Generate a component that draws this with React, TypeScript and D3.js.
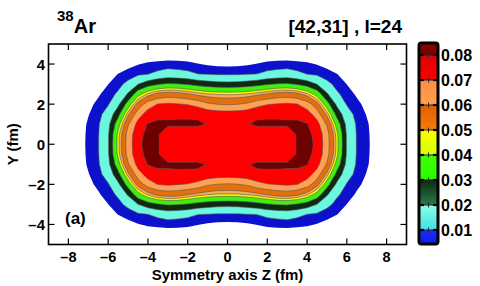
import React, { useMemo } from 'react'
import * as d3 from 'd3'

// nuclear density, one quadrant (z >= 0, Y >= 0), grid step 0.5 fm
// rows: Y = 0, 0.5, ... 4.5   columns: z = 0, 0.5, ... 8
const gridStep = 0.5
const densityQuadrant = [
  [0.075, 0.075, 0.0755, 0.0755, 0.0745, 0.076, 0.077, 0.0805, 0.085, 0.077, 0.065, 0.043, 0.019, 0.0096, 0.0061, 0.0025, 0.0005],
  [0.075, 0.0752, 0.076, 0.074, 0.074, 0.074, 0.074, 0.081, 0.083, 0.0765, 0.0643, 0.042, 0.0188, 0.0095, 0.006, 0.0024, 0.0005],
  [0.0755, 0.0765, 0.0795, 0.0815, 0.0815, 0.0815, 0.0815, 0.0825, 0.0805, 0.0735, 0.0588, 0.0361, 0.0171, 0.0091, 0.0057, 0.0022, 0.0005],
  [0.075, 0.0752, 0.0765, 0.0782, 0.0785, 0.0785, 0.078, 0.0765, 0.0745, 0.0655, 0.0481, 0.0265, 0.0135, 0.0079, 0.0047, 0.0015, 0.0003],
  [0.0591, 0.0597, 0.0617, 0.0668, 0.0695, 0.0705, 0.0715, 0.0703, 0.0651, 0.0536, 0.0343, 0.0179, 0.0094, 0.0063, 0.0035, 0.001, 0],
  [0.0441, 0.0444, 0.0457, 0.0479, 0.0509, 0.0538, 0.0545, 0.0524, 0.0465, 0.0363, 0.0212, 0.0112, 0.0073, 0.0043, 0.002, 0, 0],
  [0.0231, 0.0234, 0.0245, 0.0264, 0.0289, 0.0305, 0.0311, 0.0289, 0.0252, 0.0197, 0.0121, 0.0079, 0.0049, 0.003, 0.001, 0, 0],
  [0.0091, 0.0092, 0.0096, 0.0101, 0.0119, 0.013, 0.0139, 0.0119, 0.0099, 0.0087, 0.0067, 0.0051, 0.003, 0.0015, 0, 0, 0],
  [0.0037, 0.0039, 0.0044, 0.0052, 0.006, 0.0064, 0.0066, 0.0062, 0.0058, 0.0047, 0.0035, 0.002, 0.001, 0, 0, 0, 0],
  [0.0005, 0.0006, 0.001, 0.0015, 0.002, 0.002, 0.002, 0.0018, 0.0015, 0.001, 0.0005, 0, 0, 0, 0, 0, 0],
]

const levels = [0.005, 0.01, 0.02, 0.03, 0.04, 0.045, 0.05, 0.06, 0.07, 0.08]
const levelColors = ['#0c12cc', '#6cf7df', '#0e2a12', '#40ee10', '#f8f800', '#f7a95e', '#e2700c', '#ffa052', '#ff0000', '#6e0000']

const xTicks = [-8, -6, -4, -2, 0, 2, 4, 6, 8]
const yTicks = [-4, -2, 0, 2, 4]

// colorbar
const barTicks = [0.01, 0.02, 0.03, 0.04, 0.05, 0.06, 0.07, 0.08]
const barEdges = [0.0044, 0.01, 0.02, 0.03, 0.04, 0.05, 0.06, 0.07, 0.08, 0.0848]
const barLow = ['#0a1ee8', '#3ee0e4', '#2a7a4e', '#22ff00', '#d4ff00', '#f27e06', '#ffa24c', '#ff0000', '#7a0000']
const barHigh = ['#1a2cff', '#8cffe8', '#0a2a0c', '#44ff00', '#ffff00', '#e25e00', '#ff8c44', '#dc0000', '#8c0000']

const font = 'Liberation Sans, Arial, Helvetica, sans-serif'
const fmtTick = (v: number) => (v < 0 ? '\u2013' + Math.abs(v) : String(v))

export default function App() {
  const width = 480
  const height = 286
  const plot = { left: 48.5, right: 406.5, top: 44, bottom: 244.5 }

  const x = d3.scaleLinear().domain([-9, 9]).range([plot.left, plot.right])
  const y = d3.scaleLinear().domain([-5, 5]).range([plot.bottom, plot.top])
  const cb = d3.scaleLinear().domain([0.01, 0.08]).range([230, 55])

  const paths = useMemo(() => {
    const ny = densityQuadrant.length
    const nz = densityQuadrant[0].length
    const cols = 2 * nz - 1
    const rows = 2 * ny - 1
    const values: number[] = new Array(cols * rows)
    for (let r = 0; r < rows; r++) {
      for (let c = 0; c < cols; c++) {
        values[r * cols + c] = densityQuadrant[Math.abs(ny - 1 - r)][Math.abs(c - (nz - 1))]
      }
    }
    const contours = d3.contours().size([cols, rows]).thresholds(levels)(values)
    const proj = d3.geoTransform({
      point(gx: number, gy: number) {
        const z = (gx - 0.5 - (nz - 1)) * gridStep
        const yy = (ny - 1 - (gy - 0.5)) * gridStep
        this.stream.point(x(z), y(yy))
      },
    })
    const path = d3.geoPath(proj)
    return contours.map((c, i) => ({ d: path(c as any) || '', color: levelColors[i], i }))
  }, [])

  const barX = 419
  const barW = 19
  const barTop = cb(barEdges[barEdges.length - 1])
  const barBottom = cb(barEdges[0])

  return (
    <svg width={width} height={height} style={{ position: 'absolute', left: 0, top: 0, background: '#fff' }} fontFamily={font} fontWeight="bold">
      <defs>
        <clipPath id="plotClip">
          <rect x={plot.left} y={plot.top} width={plot.right - plot.left} height={plot.bottom - plot.top} />
        </clipPath>
        {barLow.map((c, i) => (
          <linearGradient key={i} id={'band' + i} x1="0" y1="1" x2="0" y2="0">
            <stop offset="0" stopColor={c} />
            <stop offset="1" stopColor={barHigh[i]} />
          </linearGradient>
        ))}
      </defs>

      <rect x={0} y={0} width={width} height={height} fill="#fff" />

      <g clipPath="url(#plotClip)">
        {paths.map(p => (
          <path
            key={p.i}
            d={p.d}
            fill={p.color}
            fillRule="evenodd"
            stroke={p.i === 0 ? 'none' : '#555'}
            strokeWidth={0.6}
          />
        ))}
      </g>

      {/* frame and ticks */}
      <rect x={plot.left} y={plot.top} width={plot.right - plot.left} height={plot.bottom - plot.top} fill="none" stroke="#000" strokeWidth={1.6} />
      {xTicks.map(t => (
        <g key={'xt' + t}>
          <line x1={x(t)} x2={x(t)} y1={plot.bottom} y2={plot.bottom - 6} stroke="#000" strokeWidth={1.2} />
          <line x1={x(t)} x2={x(t)} y1={plot.top} y2={plot.top + 6} stroke="#000" strokeWidth={1.2} />
          <text x={x(t)} y={261.5} textAnchor="middle" fontSize={14.5}>{fmtTick(t)}</text>
        </g>
      ))}
      {yTicks.map(t => (
        <g key={'yt' + t}>
          <line x1={plot.left} x2={plot.left + 6} y1={y(t)} y2={y(t)} stroke="#000" strokeWidth={1.2} />
          <line x1={plot.right} x2={plot.right - 6} y1={y(t)} y2={y(t)} stroke="#000" strokeWidth={1.2} />
          <text x={45} y={y(t) + 5.5} textAnchor="end" fontSize={15}>{fmtTick(t)}</text>
        </g>
      ))}

      <text x={(plot.left + plot.right) / 2} y={279.5} textAnchor="middle" fontSize={15}>Symmetry axis Z (fm)</text>
      <text transform={`translate(18, ${y(0)}) rotate(-90)`} textAnchor="middle" fontSize={15}>Y (fm)</text>
      <text x={65} y={224} fontSize={17}>(a)</text>

      <text x={57} y={33} fontSize={20}>
        <tspan fontSize={15} dy={-12}>38</tspan>
        <tspan dy={12}>Ar</tspan>
      </text>
      <text x={402} y={33} textAnchor="end" fontSize={19}>[42,31] , l=24</text>

      {/* colorbar */}
      {barLow.map((c, i) => (
        <rect key={'b' + i} x={barX} width={barW} y={cb(barEdges[i + 1])} height={cb(barEdges[i]) - cb(barEdges[i + 1])} fill={`url(#band${i})`} />
      ))}
      {barTicks.map(t => (
        <g key={'bt' + t}>
          <line x1={barX} x2={barX + barW} y1={cb(t)} y2={cb(t)} stroke="#222" strokeWidth={1} />
          <line x1={barX} x2={barX + 5} y1={cb(t)} y2={cb(t)} stroke="#000" strokeWidth={2.2} />
          <line x1={barX + barW - 5} x2={barX + barW} y1={cb(t)} y2={cb(t)} stroke="#000" strokeWidth={2.2} />
          <line x1={barX + barW / 2} x2={barX + barW / 2} y1={cb(t) - 2.5} y2={cb(t) + 2.5} stroke="#222" strokeWidth={1} />
          <text x={441} y={cb(t) + 6} fontSize={16}>{t.toFixed(2)}</text>
        </g>
      ))}
      <rect x={barX} y={barTop} width={barW} height={barBottom - barTop} rx={2.5} fill="none" stroke="#000" strokeWidth={3} />
    </svg>
  )
}
